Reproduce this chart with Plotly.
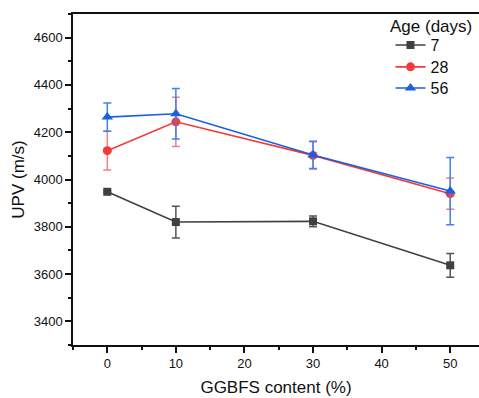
import plotly.graph_objects as go

# GGBFS replacement level (%) and UPV readings (m/s) for each curing age
ggbfs = [0, 10, 30, 50]

upv_7 = [3948, 3820, 3823, 3637]
err_7 = [4, 67, 23, 50]

upv_28 = [4122, 4244, 4102, 3940]
err_28 = [82, 104, 58, 66]

upv_56 = [4264, 4278, 4104, 3951]
err_56 = [60, 107, 58, 142]

series = [
    ("7", upv_7, err_7, "#404040", "#555555", "square", 8, "legend"),
    ("28", upv_28, err_28, "#f23b3b", "#f27f84", "circle", 9, "legend2"),
    ("56", upv_56, err_56, "#1b5fe3", "#3f82ef", "triangle-up", 10, "legend3"),
]

fig = go.Figure()
for name, y, e, col, ecol, sym, size, leg in series:
    fig.add_trace(go.Scatter(
        x=ggbfs, y=y, name=name, mode="lines+markers", legend=leg,
        line=dict(color=col, width=1.6),
        marker=dict(symbol=sym, size=size, color=col),
        error_y=dict(type="data", array=e, visible=True,
                     color=ecol, thickness=1.5, width=4),
    ))

font = "Liberation Sans, Arial, sans-serif"

# legend heading drawn as a separate text label above the entries
fig.add_annotation(
    text="Age (days)", xref="paper", yref="paper", x=0.776, y=0.961,
    xanchor="left", yanchor="middle", showarrow=False,
    font=dict(size=17, family=font, color="#111111"),
)


def entry(ypos):
    return dict(
        font=dict(size=16, family=font, color="#111111"),
        x=0.782, y=ypos, xanchor="left", yanchor="middle",
        bgcolor="rgba(0,0,0,0)", itemwidth=30,
    )


fig.update_layout(
    width=479, height=398,
    margin=dict(l=73, r=0, t=14, b=53),
    paper_bgcolor="white", plot_bgcolor="white",
    font=dict(family=font, color="#111111", size=13),
    showlegend=True,
    legend=entry(0.906),
    legend2=entry(0.840),
    legend3=entry(0.776),
    xaxis=dict(
        range=[-5, 54.2], tickvals=[0, 10, 20, 30, 40, 50],
        showgrid=False, zeroline=False,
        showline=True, linecolor="#111111", linewidth=1.5, mirror=True,
        ticks="outside", ticklen=6, tickwidth=1.5, tickcolor="#111111",
        minor=dict(dtick=5, tick0=0, ticks="outside", ticklen=3, tickwidth=1.5, tickcolor="#111111"),
        title=dict(text="GGBFS content (%)", font=dict(size=17, family=font, color="#111111"), standoff=11),
        tickfont=dict(size=13, family=font, color="#111111"),
    ),
    yaxis=dict(
        range=[3300, 4700], tickvals=[3400, 3600, 3800, 4000, 4200, 4400, 4600],
        showgrid=False, zeroline=False,
        showline=True, linecolor="#111111", linewidth=1.5, mirror=False,
        ticks="outside", ticklen=6, tickwidth=1.5, tickcolor="#111111",
        minor=dict(dtick=100, tick0=3300, ticks="outside", ticklen=3, tickwidth=1.5, tickcolor="#111111"),
        title=dict(text="UPV (m/s)", font=dict(size=17, family=font, color="#111111"), standoff=5),
        tickfont=dict(size=13, family=font, color="#111111"),
    ),
)

fig.write_html("out.html")
